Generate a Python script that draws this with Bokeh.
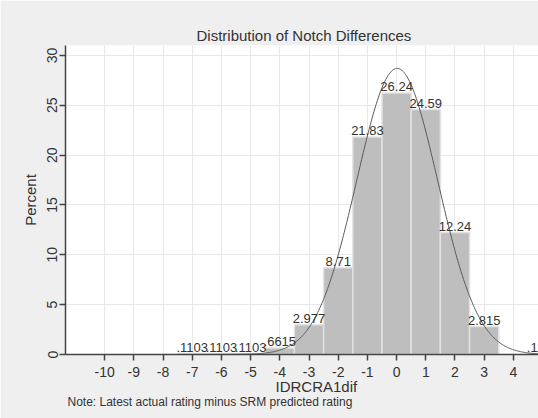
import numpy as np
from bokeh.plotting import figure
from bokeh.models import Range1d, FixedTicker, ColumnDataSource, Title
from bokeh.core.properties import value
from bokeh.embed import file_html
from bokeh.resources import INLINE

# ---- data ----
bins = [-7, -6, -5, -4, -3, -2, -1, 0, 1, 2, 3, 5]
percent = [0.1103, 0.1103, 0.1103, 0.6615, 2.977, 8.71, 21.83, 26.24, 24.59, 12.24, 2.815, 0.1103]
x_ticks = [-10, -9, -8, -7, -6, -5, -4, -3, -2, -1, 0, 1, 2, 3, 4]
y_ticks = [0, 5, 10, 15, 20, 25, 30]
# normal density overlay parameters
curve_mu = 0.02
curve_sigma = 1.39

title_text = "Distribution of Notch Differences"
x_title = "IDRCRA1dif"
y_title = "Percent"
note_text = "Note: Latest actual rating minus SRM predicted rating"

FONT = "Liberation Sans"
BG = "#efefef"
TXT = "#333333"


def stata_fmt(v):
    s = f"{v:.4g}"
    if s.startswith("0."):
        s = s[1:]
    return s


labels = [stata_fmt(v) for v in percent]

p = figure(frame_width=473, frame_height=309, output_backend="svg", toolbar_location=None,
           x_range=Range1d(-11.34, 4.86), y_range=Range1d(0, 31.0),
           min_border_left=65, min_border_right=0, min_border_top=45, min_border_bottom=64)

p.background_fill_color = "white"
p.border_fill_color = BG
p.outline_line_color = None

p.title.text = title_text
p.title.align = "left"
p.title.offset = 131
p.title.text_font = FONT
p.title.text_font_size = "15px"
p.title.text_font_style = "normal"
p.title.text_color = TXT
p.title.standoff = 4

# grid
for g in (p.xgrid, p.ygrid):
    g.grid_line_color = "#e8e8e8"
    g.grid_line_width = 1
p.xgrid.ticker = FixedTicker(ticks=x_ticks)
p.ygrid.ticker = FixedTicker(ticks=y_ticks)

src = ColumnDataSource(dict(x=bins, top=percent, lab=labels))
p.vbar(x="x", top="top", bottom=0, width=1.0, source=src,
       fill_color="#bebebe", line_color="#e2e2e2", line_width=1.5)

xs = np.linspace(-11.5, 5.5, 600)
ys = 100.0 / (curve_sigma * np.sqrt(2 * np.pi)) * np.exp(-0.5 * ((xs - curve_mu) / curve_sigma) ** 2)
p.line(xs, ys, line_color="#5a5a5a", line_width=1)

p.text(x="x", y="top", text="lab", source=src, text_align="center",
       text_baseline="alphabetic", y_offset=-6, text_font=value(FONT),
       text_font_size="13px", text_color=TXT)

# axes
for ax in (p.xaxis[0], p.yaxis[0]):
    ax.axis_line_color = "#444444"
    ax.axis_line_width = 1.5
    ax.major_tick_line_color = "#444444"
    ax.major_tick_line_width = 1.5
    ax.major_tick_out = 6
    ax.major_tick_in = 0
    ax.minor_tick_line_color = None
    ax.major_label_text_font = FONT
    ax.major_label_text_font_size = "14px"
    ax.major_label_text_color = TXT

p.xaxis.ticker = FixedTicker(ticks=x_ticks)
p.xaxis.major_label_overrides = {t: str(t) for t in x_ticks}
p.xaxis.major_label_standoff = 6
p.yaxis.ticker = FixedTicker(ticks=y_ticks)
p.yaxis.major_label_overrides = {t: str(t) for t in y_ticks}
p.yaxis.major_label_orientation = "vertical"
p.yaxis.major_label_standoff = 2
p.yaxis.axis_label = y_title
p.yaxis.axis_label_text_font = FONT
p.yaxis.axis_label_text_font_size = "15px"
p.yaxis.axis_label_text_font_style = "normal"
p.yaxis.axis_label_text_color = TXT
p.yaxis.axis_label_standoff = 6

t_x = Title(text=x_title, align="left", offset=210, text_font=FONT,
            text_font_size="15px", text_font_style="normal", text_color=TXT, standoff=-8)
t_note = Title(text=note_text, align="left", offset=2, text_font=FONT,
               text_font_size="12px", text_font_style="normal", text_color=TXT, standoff=4)
p.add_layout(t_x, "below")
p.add_layout(t_note, "below")

open("out.html", "w").write(file_html(p, INLINE))
